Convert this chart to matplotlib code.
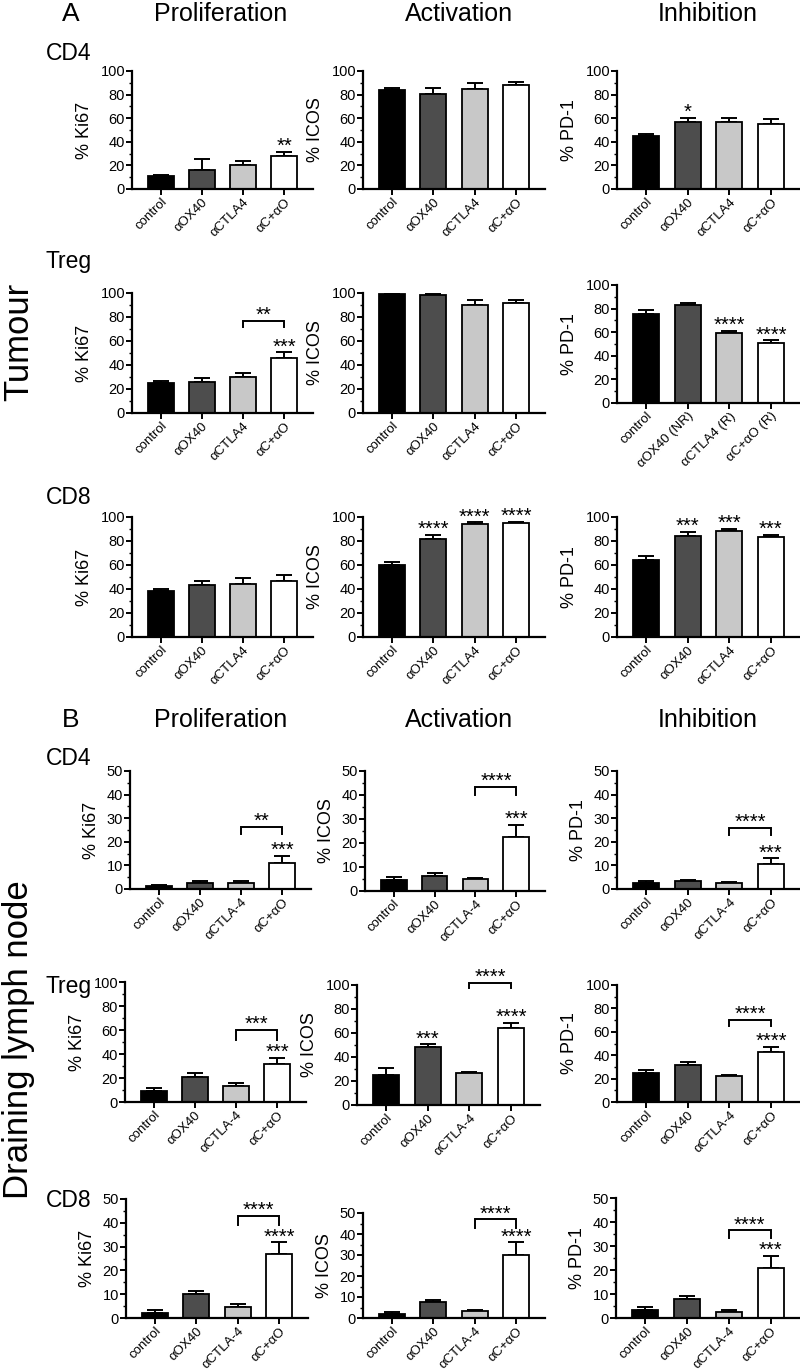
import matplotlib
matplotlib.use("Agg")
import matplotlib.pyplot as plt
from matplotlib.ticker import MultipleLocator

plt.rcParams['font.family'] = ['Liberation Sans', 'DejaVu Sans']

W, H = 800, 1370
DPI = 100

# ---------------- data ----------------
labels_a = ["control", "\u03b1OX40", "\u03b1CTLA4", "\u03b1C+\u03b1O"]
labels_a_treg_pd1 = ["control", "\u03b1OX40 (NR)", "\u03b1CTLA4 (R)", "\u03b1C+\u03b1O (R)"]
labels_b = ["control", "\u03b1OX40", "\u03b1CTLA-4", "\u03b1C+\u03b1O"]

# Tumour
tum_cd4_ki67 = [11, 16, 20, 28]
tum_cd4_ki67_sem = [1, 9.5, 4, 3.5]
tum_cd4_icos = [84, 80.5, 85, 88]
tum_cd4_icos_sem = [1.5, 5.5, 4.5, 3]
tum_cd4_pd1 = [45, 57, 56.5, 55.5]
tum_cd4_pd1_sem = [2, 3.5, 4, 3.5]

tum_treg_ki67 = [25, 26, 30, 46]
tum_treg_ki67_sem = [2, 3.5, 3, 4.5]
tum_treg_icos = [99, 98, 90, 91.5]
tum_treg_icos_sem = [0.5, 1, 4.5, 3]
tum_treg_pd1 = [75.5, 83, 59, 50.5]
tum_treg_pd1_sem = [3, 1.5, 2, 2.5]

tum_cd8_ki67 = [38, 43.5, 44.5, 47]
tum_cd8_ki67_sem = [2, 3.5, 4.5, 5]
tum_cd8_icos = [60, 81.5, 94, 95]
tum_cd8_icos_sem = [2.5, 3.5, 1.5, 0.8]
tum_cd8_pd1 = [64, 84.5, 88.5, 83.5]
tum_cd8_pd1_sem = [3.5, 3, 1.5, 1.8]

# Draining lymph node
dln_cd4_ki67 = [1.3, 2.7, 2.4, 11]
dln_cd4_ki67_sem = [0.6, 0.6, 0.9, 3]
dln_cd4_icos = [4.4, 6.2, 4.9, 22.5]
dln_cd4_icos_sem = [1.4, 1.2, 0.7, 5]
dln_cd4_pd1 = [2.5, 3.5, 2.5, 10.5]
dln_cd4_pd1_sem = [0.8, 0.5, 0.5, 2.5]

dln_treg_ki67 = [9, 21, 13.5, 31.7]
dln_treg_ki67_sem = [2.6, 3, 2.5, 5.3]
dln_treg_icos = [25, 48, 26.4, 64]
dln_treg_icos_sem = [6, 2.5, 1.4, 4.6]
dln_treg_pd1 = [25, 32, 22, 43]
dln_treg_pd1_sem = [2, 2, 1, 4]

dln_cd8_ki67 = [2.2, 9.9, 4.7, 26.7]
dln_cd8_ki67_sem = [1, 1.4, 1.3, 5.1]
dln_cd8_icos = [2, 7.5, 3.5, 30]
dln_cd8_icos_sem = [0.7, 1.3, 0.5, 6]
dln_cd8_pd1 = [3.2, 7.8, 2.5, 21]
dln_cd8_pd1_sem = [1.4, 1.4, 0.7, 4.8]

# significance stars above bars (per bar) and brackets (i, j, text, y_line, y_leg)
stars_tum_cd4_ki67 = ["", "", "", "**"]
stars_tum_cd4_pd1 = ["", "*", "", ""]
stars_tum_treg_ki67 = ["", "", "", "***"]
bracket_tum_treg_ki67 = (2, 3, "**", 77, 72)
stars_tum_treg_pd1 = ["", "", "****", "****"]
stars_tum_cd8_icos = ["", "****", "****", "****"]
stars_tum_cd8_pd1 = ["", "***", "***", "***"]

stars_dln_cd4_ki67 = ["", "", "", "***"]
bracket_dln_cd4_ki67 = (2, 3, "**", 26.4, 23.3)
stars_dln_cd4_icos = ["", "", "", "***"]
bracket_dln_cd4_icos = (2, 3, "****", 43.3, 40)
stars_dln_cd4_pd1 = ["", "", "", "***"]
bracket_dln_cd4_pd1 = (2, 3, "****", 26, 23)

stars_dln_treg_ki67 = ["", "", "", "***"]
bracket_dln_treg_ki67 = (2, 3, "***", 60, 51.5)
stars_dln_treg_icos = ["", "***", "", "****"]
bracket_dln_treg_icos = (2, 3, "****", 102, 97.8)
stars_dln_treg_pd1 = ["", "", "", "****"]
bracket_dln_treg_pd1 = (2, 3, "****", 70, 65)

stars_dln_cd8_ki67 = ["", "", "", "****"]
bracket_dln_cd8_ki67 = (2, 3, "****", 43, 39)
stars_dln_cd8_icos = ["", "", "", "****"]
bracket_dln_cd8_icos = (2, 3, "****", 47, 43)
stars_dln_cd8_pd1 = ["", "", "", "***"]
bracket_dln_cd8_pd1 = (2, 3, "****", 36.5, 33.2)

bar_colors = ["#000000", "#4d4d4d", "#c8c8c8", "#ffffff"]

fig = plt.figure(figsize=(W / DPI, H / DPI), dpi=DPI)


def rect(left, top, right, bottom):
    return [left / W, 1 - bottom / H, (right - left) / W, (bottom - top) / H]


def star_text(ax, x, y, s):
    ax.annotate(s, xy=(x, y), xytext=(0, -1), textcoords="offset points",
                ha="center", va="baseline", fontsize=14.5,
                annotation_clip=False)


def panel(r, means, sems, ylabel, ymax, major, xlabels, stars=None, bracket=None):
    ax = fig.add_axes(rect(*r))
    x = list(range(len(means)))
    ax.bar(x, means, width=0.63, color=bar_colors, edgecolor="#000000",
           linewidth=1.3, zorder=2)
    ax.errorbar(x, means, yerr=[[0] * len(sems), sems], fmt="none",
                ecolor="#000000", elinewidth=1.4, capsize=5.5, capthick=1.4,
                zorder=1)
    ax.set_xlim(-0.7, 3.7)
    ax.set_ylim(0, ymax)
    ax.yaxis.set_major_locator(MultipleLocator(major))
    ax.yaxis.set_minor_locator(MultipleLocator(major / 2))
    for s in ("top", "right"):
        ax.spines[s].set_visible(False)
    for s in ("left", "bottom"):
        ax.spines[s].set_linewidth(1.6)
    ax.tick_params(axis="y", which="major", length=4, width=1.4, labelsize=10.5, pad=1)
    ax.tick_params(axis="y", which="minor", length=2.5, width=1.0)
    ax.tick_params(axis="x", length=4, width=1.4, labelsize=9.5, pad=1)
    ax.set_xticks(x)
    ax.set_xticklabels(xlabels, rotation=45, ha="right", rotation_mode="anchor")
    ax.set_ylabel(ylabel, fontsize=13, labelpad=5)
    if stars:
        for i, s in enumerate(stars):
            if s:
                star_text(ax, i, means[i] + sems[i] + ymax * 0.01, s)
    if bracket:
        i, j, s, yl, yb = bracket
        ax.plot([i, i, j, j], [yb, yl, yl, yb], color="#000000", lw=1.4,
                clip_on=False, solid_joinstyle="miter")
        star_text(ax, (i + j) / 2, yl + ymax * 0.01, s)
    return ax


# ---- Section A: Tumour ----
panel((132, 71, 313, 189), tum_cd4_ki67, tum_cd4_ki67_sem, "% Ki67", 100, 20, labels_a, stars_tum_cd4_ki67)
panel((363, 71, 545, 189), tum_cd4_icos, tum_cd4_icos_sem, "% ICOS", 100, 20, labels_a)
panel((617, 71, 800, 189), tum_cd4_pd1, tum_cd4_pd1_sem, "% PD-1", 100, 20, labels_a, stars_tum_cd4_pd1)

panel((132, 293, 313, 413), tum_treg_ki67, tum_treg_ki67_sem, "% Ki67", 100, 20, labels_a, stars_tum_treg_ki67, bracket_tum_treg_ki67)
panel((363, 293, 545, 413), tum_treg_icos, tum_treg_icos_sem, "% ICOS", 100, 20, labels_a)
panel((617, 285, 800, 403), tum_treg_pd1, tum_treg_pd1_sem, "% PD-1", 100, 20, labels_a_treg_pd1, stars_tum_treg_pd1)

panel((132, 517, 313, 637), tum_cd8_ki67, tum_cd8_ki67_sem, "% Ki67", 100, 20, labels_a)
panel((363, 517, 545, 637), tum_cd8_icos, tum_cd8_icos_sem, "% ICOS", 100, 20, labels_a, stars_tum_cd8_icos)
panel((617, 517, 800, 637), tum_cd8_pd1, tum_cd8_pd1_sem, "% PD-1", 100, 20, labels_a, stars_tum_cd8_pd1)

# ---- Section B: Draining lymph node ----
panel((130, 771, 311, 889), dln_cd4_ki67, dln_cd4_ki67_sem, "% Ki67", 50, 10, labels_b, stars_dln_cd4_ki67, bracket_dln_cd4_ki67)
panel((365, 771, 545, 891), dln_cd4_icos, dln_cd4_icos_sem, "% ICOS", 50, 10, labels_b, stars_dln_cd4_icos, bracket_dln_cd4_icos)
panel((617, 771, 800, 889), dln_cd4_pd1, dln_cd4_pd1_sem, "% PD-1", 50, 10, labels_b, stars_dln_cd4_pd1, bracket_dln_cd4_pd1)

panel((125, 982, 306, 1102), dln_treg_ki67, dln_treg_ki67_sem, "% Ki67", 100, 20, labels_b, stars_dln_treg_ki67, bracket_dln_treg_ki67)
panel((357, 985, 540, 1105), dln_treg_icos, dln_treg_icos_sem, "% ICOS", 100, 20, labels_b, stars_dln_treg_icos, bracket_dln_treg_icos)
panel((617, 985, 800, 1102), dln_treg_pd1, dln_treg_pd1_sem, "% PD-1", 100, 20, labels_b, stars_dln_treg_pd1, bracket_dln_treg_pd1)

panel((126, 1199, 308, 1318), dln_cd8_ki67, dln_cd8_ki67_sem, "% Ki67", 50, 10, labels_b, stars_dln_cd8_ki67, bracket_dln_cd8_ki67)
panel((363, 1213, 545, 1318), dln_cd8_icos, dln_cd8_icos_sem, "% ICOS", 50, 10, labels_b, stars_dln_cd8_icos, bracket_dln_cd8_icos)
panel((616, 1198, 800, 1318), dln_cd8_pd1, dln_cd8_pd1_sem, "% PD-1", 50, 10, labels_b, stars_dln_cd8_pd1, bracket_dln_cd8_pd1)


def ftext(x, y, s, size, **kw):
    fig.text(x / W, 1 - y / H, s, fontsize=size, **kw)


# headers
ftext(71, 21, "A", 19, ha="center", va="baseline")
ftext(71, 727, "B", 19, ha="center", va="baseline")
for yb in (21, 727):
    ftext(221, yb, "Proliferation", 18, ha="center", va="baseline")
    ftext(459, yb, "Activation", 18, ha="center", va="baseline")
    ftext(708, yb, "Inhibition", 18, ha="center", va="baseline")

# row labels
for (yb, s) in ((60, "CD4"), (268, "Treg"), (504, "CD8"),
                (765, "CD4"), (993, "Treg"), (1207, "CD8")):
    ftext(46, yb, s, 16.5, ha="left", va="baseline")

ftext(19, 342, "Tumour", 25, ha="center", va="center", rotation=90)
ftext(19, 1040, "Draining lymph node", 25, ha="center", va="center", rotation=90)

fig.savefig("out.png", dpi=DPI)
